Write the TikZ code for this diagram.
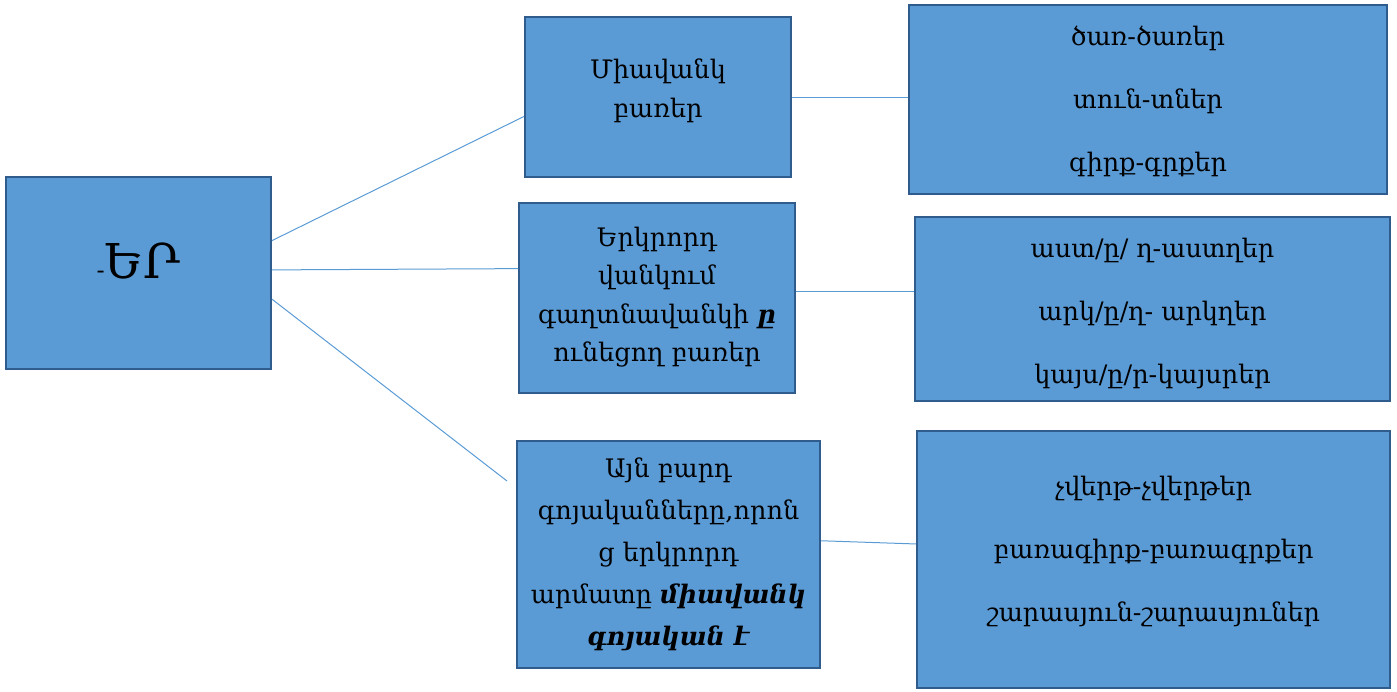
\documentclass[tikz,border=0pt]{standalone}
\usepackage{fontspec}
\setmainfont{DejaVu Serif}
\usetikzlibrary{calc}
\definecolor{boxfill}{HTML}{5B9BD5}
\definecolor{boxline}{HTML}{2F5C8C}
\definecolor{conn}{HTML}{5B9BD5}
\tikzset{
  box/.style={draw=boxline, line width=2pt, fill=boxfill, inner sep=0pt},
  txt/.style={inner sep=0pt, align=center, font=\fontsize{25.5}{38.5}\selectfont},
  listtxt/.style={txt, font=\fontsize{25.5}{63}\selectfont},
  conline/.style={draw=conn, line width=1pt}
}
\begin{document}
\begin{tikzpicture}[x=1pt,y=-1pt]
\useasboundingbox (0,0) rectangle (1397,691);
\node[box, minimum width=265pt, minimum height=192pt] (L) at (138.5,273) {};
\node[txt, font=\fontsize{48}{56}\selectfont] (Lt) at ($(L.center)+(0,-12)$) {{\fontsize{24}{26}\selectfont -}ԵՐ};
\node[box, minimum width=266pt, minimum height=160pt] (B1) at (658,97) {};
\node[txt] (B1t) at ($(B1.center)+(0,-6)$) {Միավանկ\\բառեր};
\node[box, minimum width=276pt, minimum height=190pt] (B2) at (657,298) {};
\node[txt] (B2t) at ($(B2.center)+(0,-1)$) {Երկրորդ\\վանկում\\գաղտնավանկի \textbf{\textit{ը}}\\ունեցող բառեր};
\node[box, minimum width=303pt, minimum height=227pt] (B3) at (668.5,554.5) {};
\node[txt, font=\fontsize{25.5}{42}\selectfont] (B3t) at ($(B3.center)+(0,0)$) {Այն բարդ\\գոյականները,որոն\\ց երկրորդ\\արմատը \textbf{\textit{միավանկ}}\\\textbf{\textit{գոյական է}}};
\node[box, minimum width=478pt, minimum height=189pt] (R1) at (1148,99.5) {};
\node[listtxt] (R1t) at ($(R1.center)+(0,2)$) {ծառ-ծառեր\\տուն-տներ\\գիրք-գրքեր};
\node[box, minimum width=475pt, minimum height=184pt] (R2) at (1152.5,309) {};
\node[listtxt] (R2t) at ($(R2.center)+(0,4)$) {աստ/ը/ ղ-աստղեր\\արկ/ը/ղ- արկղեր\\կայս/ը/ր-կայսրեր};
\node[box, minimum width=473pt, minimum height=257pt] (R3) at (1153.5,559.5) {};
\node[listtxt] (R3t) at ($(R3.center)+(0,-8)$) {չվերթ-չվերթեր\\բառագիրք-բառագրքեր\\շարասյուն-շարասյուներ};
\coordinate (E3) at (507,481);
\draw[conline] ($(L.north east)!0.333!(L.south east)$) -- ($(B1.north west)!0.62!(B1.south west)$);
\draw[conline] ($(L.north east)!0.484!(L.south east)$) -- ($(B2.north west)!0.347!(B2.south west)$);
\draw[conline] ($(L.north east)!0.635!(L.south east)$) -- (E3);
\draw[conline] (B1.east) -- (R1.west |- B1.east);
\draw[conline] ($(B2.north east)!0.468!(B2.south east)$) coordinate (b2r) -- (R2.west |- b2r);
\draw[conline] ($(B3.north east)!0.44!(B3.south east)$) -- ($(R3.north west)!0.44!(R3.south west)$);
\end{tikzpicture}
\end{document}
